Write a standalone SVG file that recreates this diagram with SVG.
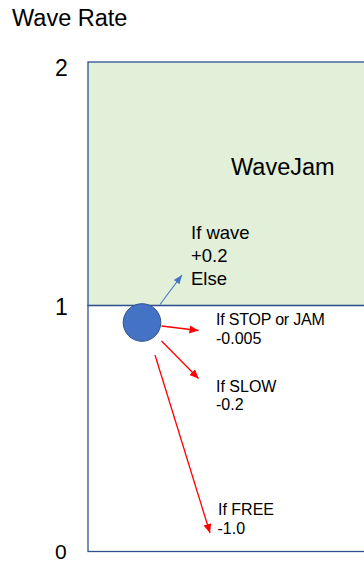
<svg xmlns="http://www.w3.org/2000/svg" width="364" height="563" viewBox="0 0 364 563">
<style>
text{font-family:"Liberation Sans",Arial,sans-serif;fill:#000}
.axis{font-size:23px}
.lbl{font-size:16px}
.red{stroke:#FF0000;stroke-width:1.3;fill:none}
</style>
<defs>
<marker id="ar" markerUnits="userSpaceOnUse" markerWidth="10" markerHeight="10" refX="9" refY="5" orient="auto">
<path d="M0,1 L9,5 L0,9 Z" fill="#FF0000"/>
</marker>
<marker id="ab" markerUnits="userSpaceOnUse" markerWidth="10" markerHeight="10" refX="9" refY="5" orient="auto">
<path d="M0,1.5 L9,5 L0,8.5 Z" fill="#4472C4"/>
</marker>
</defs>
<rect width="364" height="563" fill="#fff"/>
<g id="wavejam-region">
<rect x="88" y="62" width="290" height="243.5" fill="#E2EFD9" stroke="#2F528F" stroke-width="1.3"/>
<text x="231" y="175" style="font-size:23.5px">WaveJam</text>
</g>
<g id="lower-region">
<rect x="88" y="305.5" width="290" height="246" fill="none" stroke="#2F528F" stroke-width="1.3"/>
</g>
<g id="axis-labels">
<text x="12" y="26" class="axis" style="font-size:23.5px">Wave Rate</text>
<text x="55" y="76" class="axis">2</text>
<text x="55" y="315" class="axis">1</text>
<text x="55" y="558.5" class="axis" style="font-size:21px">0</text>
</g>
<g id="state">
<circle cx="142" cy="322.5" r="18.8" fill="#4472C4" stroke="#2F528F" stroke-width="1"/>
</g>
<g id="connectors">
<line x1="160" y1="304.5" x2="182" y2="275" stroke="#4472C4" stroke-width="1.1" marker-end="url(#ab)"/>
<line x1="161.5" y1="326" x2="198.5" y2="330.5" class="red" marker-end="url(#ar)"/>
<line x1="161.5" y1="341" x2="198.5" y2="378.5" class="red" marker-end="url(#ar)"/>
<line x1="155" y1="355" x2="210" y2="533" class="red" marker-end="url(#ar)"/>
</g>
<g id="labels">
<text x="191" y="239" style="font-size:18.5px">If wave</text>
<text x="191" y="262" style="font-size:18.5px">+0.2</text>
<text x="191" y="285" style="font-size:18.5px">Else</text>
<text x="216" y="325" class="lbl" letter-spacing="-0.2">If STOP or JAM</text>
<text x="216" y="344" class="lbl">-0.005</text>
<text x="216" y="391.5" class="lbl">If SLOW</text>
<text x="216" y="410" class="lbl">-0.2</text>
<text x="218" y="515" class="lbl">If FREE</text>
<text x="217.5" y="534" class="lbl">-1.0</text>
</g>
</svg>
